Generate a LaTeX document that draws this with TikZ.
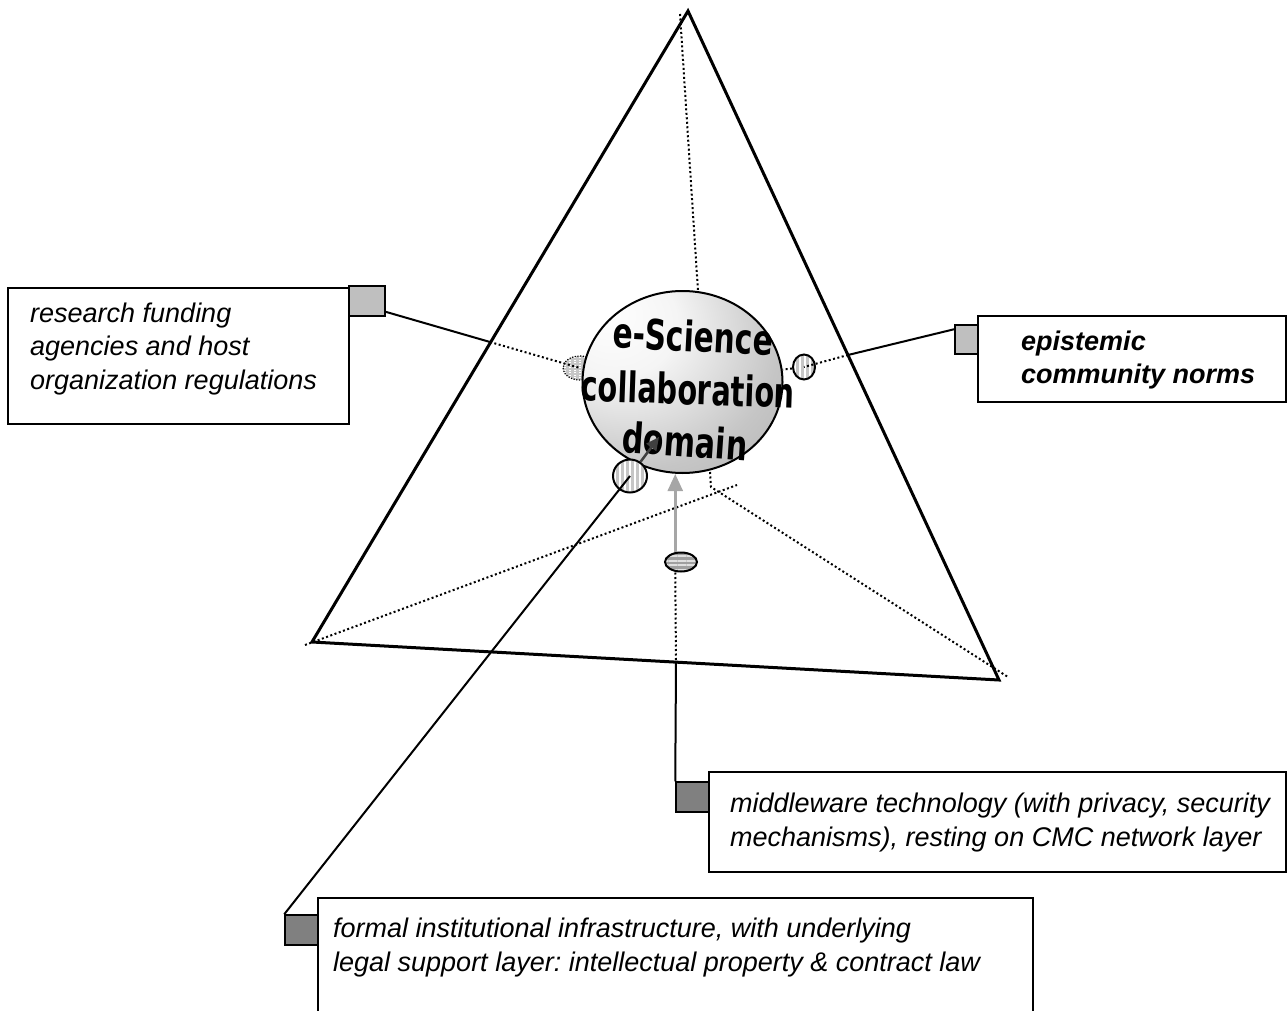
\documentclass[tikz,border=0pt]{standalone}
\usepackage{fontspec}
\setmainfont{Liberation Sans}
\newfontfamily\warpfont{DejaVu Sans}
\frenchspacing
\usetikzlibrary{shapes.geometric,patterns.meta,arrows.meta,calc}
\pgfdeclareradialshading{sphereshade}{\pgfpoint{-20bp}{20bp}}{color(0bp)=(white); color(15bp)=(gray!8); color(35bp)=(gray!45); color(60bp)=(gray!72); color(80bp)=(gray!90)}
\tikzset{
  tri/.style={line width=3pt, line join=miter},
  dotline/.style={line width=2pt, dash pattern=on 2pt off 2.5pt},
  conn/.style={line width=2pt},
  boxst/.style={draw, line width=1.8pt, fill=white, rectangle, inner sep=0pt},
  sqlight/.style={draw, line width=1.5pt, fill=gray!50, rectangle, inner sep=0pt},
  sqdark/.style={draw, line width=1.5pt, fill=gray, rectangle, inner sep=0pt},
  txt/.style={anchor=north west, inner sep=0pt, align=left, font=\fontsize{27}{33.5}\selectfont\itshape},
  warp/.style={inner sep=0pt, font=\warpfont\bfseries\fontsize{40}{40}\selectfont},
  vstripe/.style={ellipse, inner sep=0pt, preaction={fill=gray!45}, pattern={Lines[angle=90,distance=5pt,line width=2.4pt]}, pattern color=white},
  grayarrow/.style={draw=gray!70, line width=2.5pt, -{Triangle[length=17pt,width=15pt]}},
  darkarrow/.style={draw=black!75, line width=2.5pt, -{Triangle[length=13pt,width=12pt]}}
}
\begin{document}
\begin{tikzpicture}[x=1pt,y=-1pt]
\useasboundingbox (0,0) rectangle (1288,1011);
\clip (0,0) rectangle (1288,1011);
% triangle corners and helper points
\coordinate (apex) at (688,11);
\coordinate (bl) at (312,642);
\coordinate (br) at (999,680);
\coordinate (dtop) at (680,14);
\coordinate (stop) at (698,291);
\coordinate (sbot) at (710,472);
\coordinate (dmid) at (711,487);
\coordinate (dbr) at (1008,677);
\coordinate (dbl) at (305,645);
\coordinate (dcross) at (737,485);
% dotted inner edges
\draw[dotline] (dtop) -- (stop);
\draw[dotline] (sbot) -- (dmid) -- (dbr);
\draw[dotline] (dbl) -- (dcross);
% triangle
\draw[tri] (apex) -- (bl) -- (br) -- cycle;
% left small ellipse (behind sphere)
\node[vstripe, draw, line width=1.2pt, dash pattern=on 1.2pt off 1.5pt, minimum width=34pt, minimum height=24pt] (lell) at (580,368) {};
% sphere
\node[ellipse, draw, line width=2pt, shading=sphereshade, minimum width=200pt, minimum height=182pt, inner sep=0pt] (sphere) at (682.5,382) {};
\node[warp, rotate=-3] (w1) at (693,336) {\scalebox{0.74}[1.05]{e-Science}};
\node[warp, rotate=-2] (w2) at (688,389) {\scalebox{0.72}[1.05]{collaboration}};
\node[warp, rotate=-4] (w3) at (685,441) {\scalebox{0.75}[1.05]{domain}};
% other small ellipses
\node[vstripe, draw, line width=2pt, minimum width=22pt, minimum height=25pt] (rell) at (804,367) {};
\node[vstripe, draw, line width=2pt, minimum width=34pt, minimum height=33pt] (cell) at (630,476) {};
\node[ellipse, inner sep=0pt, draw, line width=2pt, preaction={fill=gray!75}, pattern={Lines[angle=0,distance=4.5pt,line width=2pt]}, pattern color=gray!25, minimum width=32pt, minimum height=19pt] (mell) at (681,562) {};
% boxes
\node[boxst, minimum width=341pt, minimum height=136pt] (lbox) at (178.5,356) {};
\node[boxst, minimum width=308pt, minimum height=86pt] (rbox) at (1132,359) {};
\node[boxst, minimum width=577pt, minimum height=100pt] (mbox) at (997.5,822) {};
\node[boxst, minimum width=715pt, minimum height=132pt] (bbox) at (675.5,964) {};
% squares
\node[sqlight, minimum width=36pt, minimum height=30pt] (lsq) at (367,301) {};
\node[sqlight, minimum width=23pt, minimum height=29pt] (rsq) at (966.5,339.5) {};
\node[sqdark, minimum width=33pt, minimum height=30pt] (msq) at (692.5,797) {};
\node[sqdark, minimum width=33pt, minimum height=30pt] (bsq) at (301.5,930) {};
% connectors
\coordinate (lbreak) at (490,342);
\coordinate (rbreak) at (848,355);
\coordinate (mbreak) at (676,663);
\coordinate (dtip) at (659,437);
\draw[conn] (lsq.-30) -- (lbreak);
\draw[dotline] (lbreak) -- (lell.center);
\draw[conn] (rsq.140) -- (rbreak);
\draw[dotline] (rbreak) -- (rell.center);
\draw[dotline] (rell) -- (sphere);
\draw[dotline] (msq.north west |- mell.south) -- (mbreak);
\draw[conn] (mbreak) -- (msq.north west);
\draw[grayarrow] (msq.north west |- mell.north) -- (msq.north west |- sphere.south);
\draw[conn] (bsq.north west) -- (cell.center);
\draw[darkarrow] (cell) -- (dtip);
% texts
\node[txt] (ltxt) at (30,302.5) {research funding\\agencies and host\\organization regulations};
\node[txt, font=\fontsize{27}{33}\selectfont\itshape\bfseries] (rtxt) at (1021,331) {epistemic\\community norms};
\node[txt] (mtxt) at (730,793) {middleware technology (with privacy, security\\mechanisms), resting on CMC network layer};
\node[txt] (btxt) at (333,918) {formal institutional infrastructure, with underlying\\legal support layer: intellectual property \& contract law};
\end{tikzpicture}
\end{document}
